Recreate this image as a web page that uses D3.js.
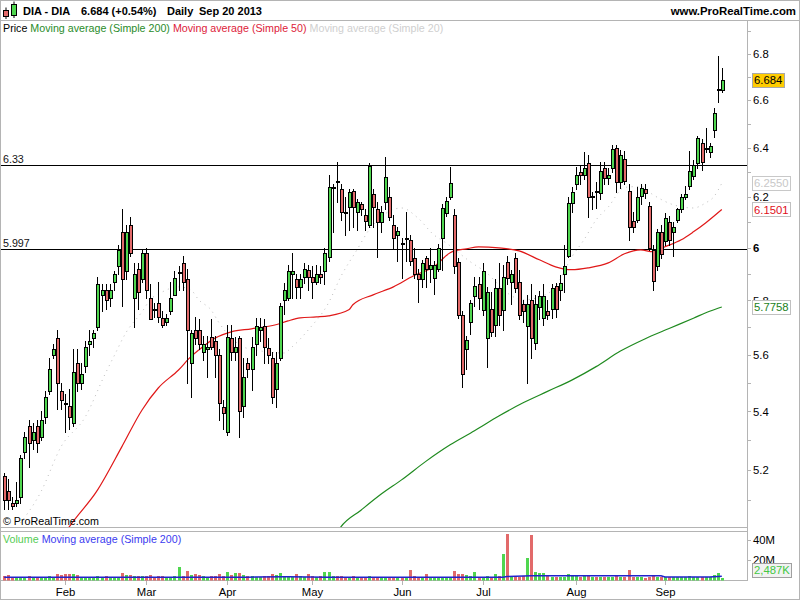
<!DOCTYPE html>
<html><head><meta charset="utf-8">
<script src="https://cdn.jsdelivr.net/npm/d3@7"></script>
<style>
html,body{margin:0;padding:0;background:#fff;}
svg{display:block;font-family:"Liberation Sans",Arial,sans-serif;}
</style></head><body>
<svg id="chart" width="800" height="600"></svg>
<script>
// ---------------- data ----------------
const symbol = "DIA - DIA";
const period = "Daily";
const asOf = "Sep 20 2013";
const firstSession = "2013-01-11";
const lastSession = "2013-09-20";
const marketHolidays = ["2013-03-29", "2013-04-01", "2013-05-01"];
const changePct = 0.54;

// daily candles: [open, high, low, close]
const ohlc = [
[5.18,5.19,5.07,5.10],[5.13,5.17,5.07,5.10],[5.09,5.11,5.07,5.08],[5.09,5.16,5.08,5.10],[5.11,5.25,5.09,5.24],
[5.26,5.33,5.24,5.31],[5.35,5.37,5.21,5.29],[5.30,5.36,5.27,5.33],[5.35,5.37,5.26,5.29],[5.31,5.40,5.30,5.37],
[5.38,5.47,5.36,5.45],[5.47,5.59,5.46,5.55],[5.60,5.64,5.59,5.62],[5.66,5.69,5.41,5.50],[5.47,5.50,5.41,5.44],
[5.43,5.46,5.33,5.425],[5.42,5.48,5.34,5.38],[5.36,5.62,5.35,5.54],[5.57,5.62,5.47,5.50],[5.50,5.57,5.48,5.53],
[5.56,5.65,5.54,5.63],[5.64,5.69,5.60,5.65],[5.66,5.69,5.63,5.68],[5.70,5.89,5.69,5.86],[5.82,5.86,5.76,5.84],
[5.84,5.86,5.77,5.80],[5.81,5.86,5.78,5.84],[5.87,5.91,5.84,5.90],[5.93,6.01,5.90,5.99],[6.06,6.15,5.78,5.88],
[5.91,6.09,5.88,6.06],[6.09,6.12,5.97,5.98],[5.81,5.94,5.70,5.90],[5.92,5.94,5.77,5.83],[5.88,5.99,5.87,5.98],
[5.98,6.00,5.81,5.84],[5.81,5.86,5.73,5.73],[5.77,5.79,5.74,5.765],[5.79,5.87,5.72,5.74],[5.735,5.76,5.70,5.71],
[5.72,5.75,5.71,5.735],[5.76,5.87,5.75,5.81],[5.82,5.91,5.82,5.885],[5.905,5.93,5.84,5.908],[5.94,5.97,5.84,5.87],
[5.88,5.92,5.50,5.69],[5.57,5.69,5.45,5.68],[5.69,5.74,5.64,5.66],[5.69,5.73,5.62,5.64],[5.61,5.67,5.58,5.64],
[5.62,5.67,5.52,5.63],[5.665,5.73,5.62,5.63],[5.65,5.67,5.52,5.60],[5.60,5.62,5.37,5.43],[5.415,5.44,5.34,5.395],
[5.33,5.71,5.32,5.665],[5.66,5.71,5.58,5.61],[5.61,5.665,5.58,5.63],[5.66,5.67,5.31,5.40],[5.42,5.59,5.38,5.52],
[5.57,5.59,5.52,5.55],[5.55,5.665,5.475,5.63],[5.64,5.735,5.60,5.705],[5.69,5.735,5.65,5.70],[5.705,5.73,5.57,5.63],
[5.625,5.66,5.57,5.60],[5.59,5.61,5.43,5.45],[5.48,5.61,5.415,5.57],[5.59,5.79,5.58,5.78],[5.80,5.865,5.75,5.84],
[5.81,5.935,5.80,5.91],[5.90,5.98,5.81,5.91],[5.88,5.90,5.81,5.85],[5.85,5.90,5.81,5.88],[5.89,5.94,5.865,5.92],
[5.915,5.935,5.84,5.89],[5.89,5.93,5.81,5.87],[5.87,5.935,5.86,5.90],[5.90,5.93,5.865,5.89],[5.91,6.00,5.86,5.98],
[5.965,6.29,5.95,6.24],[6.235,6.25,6.06,6.24],[6.265,6.34,6.18,6.26],[6.23,6.25,6.11,6.14],[6.14,6.20,6.05,6.135],
[6.16,6.23,6.07,6.22],[6.225,6.23,6.08,6.16],[6.14,6.19,6.07,6.18],[6.17,6.18,6.13,6.15],[6.13,6.15,6.07,6.105],
[6.09,6.335,6.08,6.325],[6.21,6.23,6.08,6.16],[6.15,6.18,5.965,6.10],[6.10,6.165,6.06,6.14],[6.18,6.36,6.15,6.28],
[6.20,6.24,6.11,6.12],[6.09,6.13,6.00,6.04],[6.05,6.08,5.95,6.065],[6.02,6.04,5.885,6.015],[6.035,6.14,5.95,6.04],
[6.03,6.05,5.935,5.95],[5.96,6.00,5.885,5.90],[5.90,5.92,5.795,5.88],[5.88,5.955,5.85,5.94],[5.96,5.97,5.85,5.92],
[5.92,6.00,5.87,5.935],[5.885,5.95,5.825,5.935],[5.92,6.015,5.91,6.00],[6.04,6.17,5.915,6.155],[6.135,6.20,6.125,6.185],
[6.20,6.32,6.19,6.255],[6.13,6.15,5.905,5.93],[5.945,5.96,5.735,5.745],[5.745,5.76,5.485,5.53],[5.62,5.67,5.55,5.655],
[5.72,5.80,5.675,5.79],[5.815,5.89,5.78,5.855],[5.86,5.89,5.77,5.81],[5.765,5.94,5.745,5.91],[5.66,5.85,5.555,5.83],
[5.77,5.83,5.67,5.685],[5.71,5.88,5.67,5.845],[5.845,5.94,5.71,5.745],[5.765,5.935,5.69,5.89],[5.945,5.97,5.86,5.885],
[5.87,5.915,5.785,5.90],[5.96,5.98,5.83,5.845],[5.87,5.915,5.73,5.745],[5.785,5.80,5.72,5.76],[5.705,5.82,5.50,5.785],
[5.80,5.86,5.59,5.66],[5.645,5.82,5.62,5.785],[5.775,5.835,5.73,5.815],[5.735,5.86,5.71,5.815],[5.76,5.80,5.73,5.745],
[5.77,5.86,5.735,5.845],[5.855,5.865,5.74,5.77],[5.84,5.895,5.80,5.865],[5.90,6.01,5.83,5.93],[5.97,6.20,5.965,6.175],
[6.175,6.24,6.14,6.22],[6.25,6.32,6.23,6.29],[6.30,6.33,6.25,6.29],[6.29,6.38,6.27,6.315],[6.335,6.37,6.12,6.20],
[6.20,6.22,6.15,6.205],[6.225,6.26,6.155,6.22],[6.215,6.34,6.19,6.305],[6.315,6.34,6.25,6.275],[6.275,6.315,6.25,6.29],
[6.315,6.41,6.30,6.395],[6.40,6.41,6.22,6.26],[6.26,6.39,6.235,6.37],[6.355,6.385,6.25,6.265],[6.225,6.25,6.03,6.08],
[6.105,6.14,6.06,6.08],[6.11,6.24,6.10,6.20],[6.205,6.25,6.17,6.235],[6.23,6.25,6.195,6.215],[6.165,6.18,5.99,6.00],
[5.99,6.01,5.84,5.875],[5.93,6.075,5.915,6.06],[6.06,6.09,5.96,5.975],[6.025,6.135,6.01,6.115],[6.10,6.125,6.01,6.03],
[6.06,6.10,5.97,6.08],[6.11,6.155,6.10,6.15],[6.15,6.21,6.14,6.20],[6.20,6.245,6.19,6.21],[6.245,6.385,6.23,6.305],
[6.285,6.35,6.27,6.33],[6.335,6.45,6.315,6.44],[6.42,6.435,6.31,6.34],[6.395,6.48,6.38,6.40],[6.38,6.42,6.36,6.405],
[6.475,6.565,6.445,6.545],[6.64,6.79,6.59,6.648],[6.64,6.735,6.635,6.684]
];

// daily volume, millions of shares
const volumeM = [
4.5,5,3.5,2.5,3,3,4,3,3.5,3,
3.5,4,3,6,5,6,6.5,6,5,3,
3.5,2.5,3,4,3,4,3,3,3.5,7,
5,5.5,4,4.5,4,4,5,3.5,4.5,4,
3,3.5,4,13,4,9.5,5,6,5.5,4,
3.5,4,4,6,4.5,8,5,7,7,5,
4.5,4,3.5,3,4,4.5,6,5,7,4,
3.5,3,6,4,3,6,4.5,3,4,8,
8,4,4,4,3,3,4,2.5,3,3.5,
4,3.5,3,2.5,2.5,3,3.5,3,3,3,
10,4,3.5,3,6,3.5,3,3,3.5,3,
3,9,6,6.5,5,4,8,3.5,3,4,
3.5,6,4,26,46,4,4,3.5,4,22,
45,8,7.5,7,4,3,3.5,3,3.5,6,
4,4,3,4,4,3,3,3.5,3,3,
3.5,4,3.5,3,10,3.5,3,3,2.5,3.5,
4,3,3,3.5,3,3,3,3,3,4,
3.5,3,3,3,3.5,5,7,2.487
];

// moving averages as [session index, value]
const sma20 = [[4,5.025],[9,5.126],[14,5.278],[20,5.381],[25,5.535],[27,5.593],[30,5.680],[34,5.758],[36,5.802],
[39,5.832],[43,5.851],[46,5.840],[48,5.802],[51,5.765],[53,5.717],[59,5.629],[62,5.618],[69,5.607],[71,5.629],
[75,5.691],[80,5.791],[83,5.889],[87,5.992],[90,6.070],[93,6.121],[98,6.156],[102,6.117],[106,6.050],[109,6.019],
[115,5.946],[119,5.904],[124,5.829],[128,5.802],[132,5.813],[136,5.851],[140,5.965],[143,6.031],[146,6.109],
[149,6.160],[153,6.238],[157,6.242],[160,6.209],[165,6.169],[170,6.156],[173,6.176],[175,6.200],[177,6.2550]];
const sma50 = [[13,4.95],[16,5.012],[23,5.133],[29,5.278],[34,5.405],[38,5.482],[43,5.546],[46,5.593],[48,5.618],
[52,5.661],[56,5.684],[61,5.695],[67,5.710],[70,5.724],[73,5.735],[77,5.739],[80,5.743],[85,5.765],[86,5.784],
[91,5.821],[96,5.851],[101,5.893],[106,5.927],[110,5.981],[111,5.988],[114,5.996],[117,6.004],[122,6.000],
[127,5.988],[132,5.954],[136,5.927],[140,5.916],[144,5.923],[149,5.942],[153,5.977],[157,5.992],[160,5.985],
[163,6.004],[167,6.031],[170,6.062],[173,6.097],[177,6.1501]];
const sma200 = [[81,4.97],[83,5.012],[88,5.067],[93,5.120],[98,5.167],[104,5.229],[110,5.285],[116,5.333],
[122,5.384],[128,5.430],[134,5.470],[140,5.510],[146,5.558],[152,5.614],[158,5.658],[164,5.696],[170,5.734],
[174,5.760],[177,5.7758]];
const volumeSma200 = [[0,3.3],[60,3.3],[70,3.6],[80,3.3],[123,3.3],[124,3.9],[130,4.6],[162,4.6],[163,3.4],[174,3.4],[177,4.2]];

const levels = [6.33, 5.997];
const priceTicks = [5.2, 5.4, 5.6, 5.8, 6, 6.2, 6.4, 6.6, 6.8];
const priceMinorTicks = d3.range(51, 70).map(v => v / 10);
const volumeTicks = [20, 40];

// ---------------- sessions ----------------
const sessions = [];
for (let d = new Date(firstSession + "T12:00:00Z"); d <= new Date(lastSession + "T12:00:00Z"); d.setUTCDate(d.getUTCDate() + 1)) {
  const wd = d.getUTCDay(), iso = d.toISOString().slice(0, 10);
  if (wd === 0 || wd === 6 || marketHolidays.includes(iso)) continue;
  sessions.push(new Date(d));
}
const monthStarts = [];
sessions.forEach((d, i) => {
  if (i > 0 && d.getUTCMonth() !== sessions[i - 1].getUTCMonth()) monthStarts.push(i);
});
const monthFmt = d3.utcFormat("%b");

// ---------------- layout ----------------
const FS = 10.7;
const frame = "#b4b4b4";
const upFill = "#4fd64f", downFill = "#e26a6a";
const plotR = 747, priceTop = 20, priceBot = 527, volTop = 531, volBot = 580;

const svg = d3.select("#chart");
const x = d3.scaleLinear().domain([0, ohlc.length - 1]).range([4.2, 721.8]);
const y = d3.scaleLog().domain([5.2, 6.8]).range([470, 53.5]);
const yv = d3.scaleLinear().domain([0, 40]).range([580.5, 540]);

const defs = svg.append("defs");
defs.append("clipPath").attr("id", "clipPrice").append("rect")
  .attr("x", 1).attr("y", priceTop + 1).attr("width", plotR - 1).attr("height", priceBot - priceTop - 1);
defs.append("clipPath").attr("id", "clipVol").append("rect")
  .attr("x", 1).attr("y", volTop + 1).attr("width", plotR - 1).attr("height", volBot - volTop - 0.5);

// ---------------- header ----------------
const icon = svg.append("g");
icon.append("line").attr("x1", 6).attr("x2", 6).attr("y1", 7.5).attr("y2", 19).attr("stroke", "#000");
icon.append("rect").attr("x", 3.5).attr("y", 10.5).attr("width", 5).attr("height", 6).attr("fill", downFill).attr("stroke", "#000");
icon.append("line").attr("x1", 14).attr("x2", 14).attr("y1", 1.5).attr("y2", 18).attr("stroke", "#000");
icon.append("rect").attr("x", 11.5).attr("y", 4.5).attr("width", 5).attr("height", 11).attr("fill", upFill).attr("stroke", "#000");

const lastClose = ohlc[ohlc.length - 1][3];
const head = svg.append("g").attr("font-size", 11).attr("font-weight", "bold").attr("fill", "#000");
head.append("text").attr("x", 23).attr("y", 15).text(symbol);
head.append("text").attr("x", 81).attr("y", 15).text(`${lastClose.toFixed(3)} (+${changePct.toFixed(2)}%)`);
head.append("text").attr("x", 167).attr("y", 15).text(period);
head.append("text").attr("x", 199).attr("y", 15).text(asOf);
svg.append("text").attr("x", 796).attr("y", 15).attr("text-anchor", "end")
  .attr("font-size", 11.4).attr("font-weight", "bold").text("www.ProRealTime.com");

// ---------------- frame ----------------
const fr = svg.append("g").attr("stroke", frame).attr("fill", "none").attr("shape-rendering", "crispEdges");
fr.append("rect").attr("x", 0.5).attr("y", 0.5).attr("width", 799).attr("height", 599);
fr.append("line").attr("x1", 0).attr("x2", 800).attr("y1", priceTop + 0.5).attr("y2", priceTop + 0.5);
fr.append("line").attr("x1", plotR + 0.5).attr("x2", plotR + 0.5).attr("y1", priceTop).attr("y2", volBot + 1);
fr.append("line").attr("x1", 0).attr("x2", plotR + 1).attr("y1", priceBot + 0.5).attr("y2", priceBot + 0.5);
fr.append("line").attr("x1", 0).attr("x2", plotR + 1).attr("y1", volTop + 0.5).attr("y2", volTop + 0.5);
fr.append("line").attr("x1", 0).attr("x2", plotR + 1).attr("y1", volBot + 0.5).attr("y2", volBot + 0.5);

// ---------------- price panel ----------------
const price = svg.append("g").attr("clip-path", "url(#clipPrice)");

// horizontal levels
levels.forEach(v => {
  const yy = Math.round(y(v)) + 0.5;
  price.append("line").attr("x1", 0).attr("x2", plotR).attr("y1", yy).attr("y2", yy)
    .attr("stroke", "#000").attr("shape-rendering", "crispEdges");
  price.append("text").attr("x", 3).attr("y", yy - 3).attr("font-size", FS).attr("fill", "#111").text(String(v));
});

const maLine = d3.line().x(d => x(d[0])).y(d => y(d[1])).curve(d3.curveMonotoneX);
price.append("path").datum(sma20).attr("d", maLine).attr("fill", "none")
  .attr("stroke", "#bdbdbd").attr("stroke-width", 1).attr("stroke-dasharray", "1,4.5");
price.append("path").datum(sma200).attr("d", maLine).attr("fill", "none")
  .attr("stroke", "#1f8a1f").attr("stroke-width", 1.2);
price.append("path").datum(sma50).attr("d", maLine).attr("fill", "none")
  .attr("stroke", "#e01818").attr("stroke-width", 1.2);

// candles
const candles = price.append("g").attr("shape-rendering", "crispEdges");
ohlc.forEach((d, i) => {
  const [o, h, l, c] = d;
  const cx = Math.round(x(i));
  candles.append("line")
    .attr("x1", cx + 0.5).attr("x2", cx + 0.5)
    .attr("y1", Math.round(y(h))).attr("y2", Math.round(y(l)) + 1)
    .attr("stroke", "#000");
  const top = Math.round(y(Math.max(o, c))), bot = Math.round(y(Math.min(o, c)));
  const bx = cx - 0.5, by = top + 0.5, bh = Math.max(bot - top, 0);
  candles.append("path")
    .attr("d", `M${bx},${by}h3v${bh}h-3Z`)
    .attr("fill", c >= o ? upFill : downFill)
    .attr("stroke", "#000");
});

svg.append("text").attr("x", 3).attr("y", priceBot - 2).attr("font-size", FS).attr("fill", "#000")
  .text("© ProRealTime.com");

// legend
const leg = svg.append("text").attr("x", 3).attr("y", 32).attr("font-size", FS);
leg.append("tspan").attr("fill", "#000").text("Price ");
leg.append("tspan").attr("fill", "#2a8c2a").text("Moving average (Simple 200) ");
leg.append("tspan").attr("fill", "#dd1b3a").text("Moving average (Simple 50) ");
leg.append("tspan").attr("fill", "#cfcfcf").text("Moving average (Simple 20)");

// right price axis
const axisG = svg.append("g").attr("transform", `translate(${plotR},0)`);
axisG.call(d3.axisRight(y).tickValues(priceMinorTicks).tickSize(4).tickFormat(""));
axisG.call(g => g.select(".domain").remove());
axisG.selectAll("line").attr("stroke", frame).attr("shape-rendering", "crispEdges");
const majorG = svg.append("g").attr("transform", `translate(${plotR},0)`);
majorG.call(d3.axisRight(y).tickValues(priceTicks).tickSize(4).tickPadding(2).tickFormat(d3.format("")));
majorG.call(g => g.select(".domain").remove());
majorG.selectAll("line").attr("stroke", frame).attr("shape-rendering", "crispEdges");
majorG.selectAll("text").attr("font-size", FS + 0.6).attr("fill", "#000")
  .attr("font-family", "'Liberation Sans',Arial,sans-serif")
  .attr("font-weight", d => d === 6 ? "bold" : "normal");

// value tags on the right axis
function tag(cy, label, fill, color, stroke) {
  const g = svg.append("g");
  const t = g.append("text").attr("x", 754).attr("y", cy).attr("dy", "0.36em")
    .attr("font-size", FS + 0.6).attr("fill", color).text(label);
  const w = t.node().getComputedTextLength();
  g.insert("rect", "text").attr("x", 752.5).attr("y", Math.round(cy - 7) + 0.5)
    .attr("width", Math.ceil(w) + 3).attr("height", 14)
    .attr("fill", fill).attr("stroke", stroke).attr("shape-rendering", "crispEdges");
}
const fmt4 = d3.format(".4f");
tag(y(lastClose), lastClose.toFixed(3), "#ffcc00", "#000", "#a8a8a8");
tag(y(sma20[sma20.length - 1][1]), fmt4(sma20[sma20.length - 1][1]), "#fff", "#c8c8c8", "#c8c8c8");
tag(y(sma50[sma50.length - 1][1]), fmt4(sma50[sma50.length - 1][1]), "#fff", "#e0101a", "#c0c0c0");
tag(y(sma200[sma200.length - 1][1]), fmt4(sma200[sma200.length - 1][1]), "#fff", "#1b7f1b", "#c0c0c0");

// ---------------- volume panel ----------------
const vol = svg.append("g").attr("clip-path", "url(#clipVol)");
vol.append("g").attr("shape-rendering", "crispEdges").selectAll("rect").data(volumeM).join("rect")
  .attr("x", (d, i) => Math.round(x(i)) - 1)
  .attr("width", 3)
  .attr("y", d => Math.round(yv(d)))
  .attr("height", d => Math.max(1, Math.round(yv(0)) - Math.round(yv(d))))
  .attr("fill", (d, i) => ohlc[i][3] >= ohlc[i][0] ? "#4fd64f" : "#e26a6a");
vol.append("path").datum(volumeSma200)
  .attr("d", d3.line().x(d => x(d[0])).y(d => yv(d[1])))
  .attr("fill", "none").attr("stroke", "#2222cc").attr("stroke-width", 1.5);

const vleg = svg.append("text").attr("x", 3).attr("y", 543).attr("font-size", FS);
vleg.append("tspan").attr("fill", "#55cc55").text("Volume ");
vleg.append("tspan").attr("fill", "#3b3bf0").text("Moving average (Simple 200)");

const vAxis = svg.append("g").attr("transform", `translate(${plotR},0)`);
vAxis.call(d3.axisRight(yv).tickValues(volumeTicks).tickSize(4).tickPadding(2).tickFormat(d => d + "M"));
vAxis.call(g => g.select(".domain").remove());
vAxis.selectAll("line").attr("stroke", frame).attr("shape-rendering", "crispEdges");
vAxis.selectAll("text").attr("font-size", FS + 0.6).attr("fill", "#000")
  .attr("font-family", "'Liberation Sans',Arial,sans-serif");

const lastVol = volumeM[volumeM.length - 1];
tag(Math.min(yv(lastVol), volBot - 10.5), d3.format(",")(Math.round(lastVol * 1000)) + "K", "#f2f2f2", "#44c844", "#a0a0a0");

// ---------------- month axis ----------------
const mAxis = svg.append("g");
monthStarts.forEach(i => {
  const xx = Math.round(x(i)) + 0.5;
  mAxis.append("line").attr("x1", xx).attr("x2", xx).attr("y1", volBot + 1).attr("y2", volBot + 5)
    .attr("stroke", frame).attr("shape-rendering", "crispEdges");
  mAxis.append("text").attr("x", xx).attr("y", 596).attr("text-anchor", "middle")
    .attr("font-size", FS + 0.6).attr("fill", "#000").text(monthFmt(sessions[i]));
});
</script>
</body></html>
